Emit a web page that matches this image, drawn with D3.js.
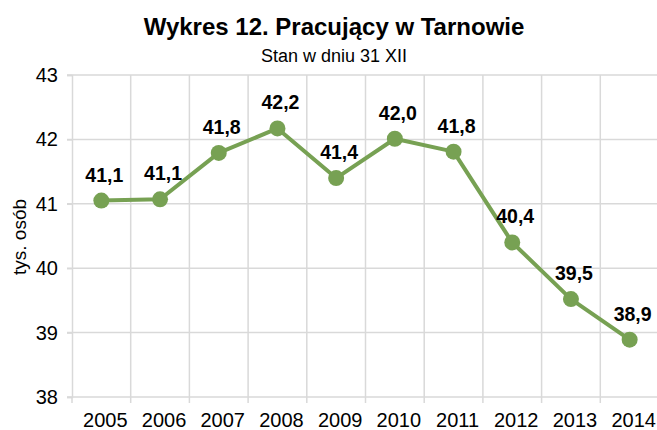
<!DOCTYPE html>
<html>
<head>
<meta charset="utf-8">
<script src="https://cdn.jsdelivr.net/npm/d3@7"></script>
<style>
  body { margin: 0; background: #fff; }
  text { font-family: "Liberation Sans", Arial, sans-serif; }
</style>
</head>
<body>
<script>
// data
var years = ["2005", "2006", "2007", "2008", "2009", "2010", "2011", "2012", "2013", "2014"];
var values = [41.05, 41.07, 41.79, 42.17, 41.40, 42.01, 41.81, 40.40, 39.52, 38.89];
var labels = ["41,1", "41,1", "41,8", "42,2", "41,4", "42,0", "41,8", "40,4", "39,5", "38,9"];
var yTicks = [38, 39, 40, 41, 42, 43];

var w = 657, h = 430;
var mLeft = 72, mRight = 659, mTop = 75, mBottom = 397;
var green = "#77a153";
var grid = "#d9d9d9";

var svg = d3.select("body").append("svg")
    .attr("width", w)
    .attr("height", h);

var x = d3.scaleBand().domain(years).range([mLeft, mRight]);
var y = d3.scaleLinear().domain([38, 43]).range([mBottom, mTop]);

// title
svg.append("text")
    .attr("x", 334).attr("y", 35)
    .attr("text-anchor", "middle")
    .attr("font-size", 24).attr("font-weight", "bold")
    .text("Wykres 12. Pracujący w Tarnowie");
svg.append("text")
    .attr("x", 334).attr("y", 62)
    .attr("text-anchor", "middle")
    .attr("font-size", 18)
    .text("Stan w dniu 31 XII");

// horizontal grid
svg.append("g").selectAll("line")
  .data(yTicks)
  .enter().append("line")
    .attr("x1", mLeft - 5).attr("x2", mRight)
    .attr("y1", function(d) { return y(d); })
    .attr("y2", function(d) { return y(d); })
    .attr("stroke", grid).attr("stroke-width", 1.5);

// left axis labels
var yAxis = svg.append("g")
    .attr("transform", "translate(" + mLeft + ",0)")
    .call(d3.axisLeft(y).tickValues(yTicks).tickSize(5).tickPadding(9).tickFormat(d3.format("d")));
yAxis.select(".domain").attr("stroke", grid).attr("stroke-width", 1.5);
yAxis.selectAll(".tick line").attr("stroke", grid).attr("stroke-width", 1.5);
yAxis.selectAll(".tick text").attr("font-size", 20).attr("fill", "#000")
    .style("font-family", "Liberation Sans, Arial, sans-serif");

// vertical grid at category boundaries
var bounds = years.slice(1).map(function(d) { return x(d); });
svg.append("g").selectAll("line")
  .data(bounds)
  .enter().append("line")
    .attr("x1", function(d) { return d; })
    .attr("x2", function(d) { return d; })
    .attr("y1", mTop).attr("y2", mBottom + 6)
    .attr("stroke", grid).attr("stroke-width", 1.5);
svg.append("line")
    .attr("x1", mLeft).attr("x2", mLeft)
    .attr("y1", mBottom).attr("y2", mBottom + 6)
    .attr("stroke", grid).attr("stroke-width", 1.5);

// x labels
svg.append("g").selectAll("text")
  .data(years)
  .enter().append("text")
    .attr("x", function(d) { return x(d) + x.bandwidth() / 2 + 4; })
    .attr("y", 427)
    .attr("text-anchor", "middle")
    .attr("font-size", 20)
    .text(function(d) { return d; });

// y title
svg.append("text")
    .attr("transform", "translate(26,237) rotate(-90)")
    .attr("text-anchor", "middle")
    .attr("font-size", 19)
    .text("tys. osób");

// line
var line = d3.line()
    .x(function(d, i) { return x(years[i]) + x.bandwidth() / 2; })
    .y(function(d) { return y(d); });

svg.append("path")
    .datum(values)
    .attr("d", line)
    .attr("fill", "none")
    .attr("stroke", green)
    .attr("stroke-width", 4)
    .attr("stroke-linejoin", "round");

svg.append("g").selectAll("circle")
  .data(values)
  .enter().append("circle")
    .attr("cx", function(d, i) { return x(years[i]) + x.bandwidth() / 2; })
    .attr("cy", function(d) { return y(d); })
    .attr("r", 8)
    .attr("fill", green);

// data labels
svg.append("g").selectAll("text")
  .data(values)
  .enter().append("text")
    .attr("x", function(d, i) { return x(years[i]) + x.bandwidth() / 2 + 3; })
    .attr("y", function(d) { return y(d) - 19; })
    .attr("text-anchor", "middle")
    .attr("font-size", 19.5).attr("font-weight", "bold")
    .text(function(d, i) { return labels[i]; });
</script>
</body>
</html>
